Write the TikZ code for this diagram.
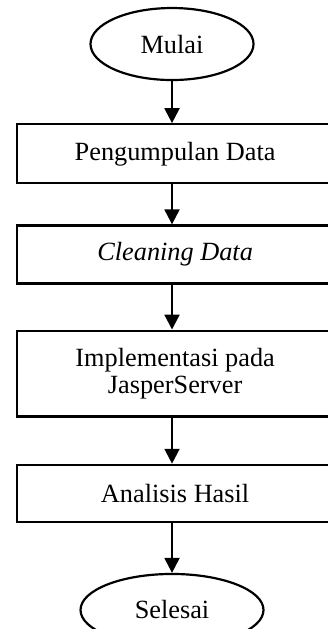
\documentclass[tikz,border=0pt]{standalone}
\usepackage{fontspec}
\setmainfont{Liberation Serif}
\usetikzlibrary{positioning,shapes.geometric,arrows.meta}

\begin{document}
\begin{tikzpicture}[
    terminal/.style={ellipse,draw=black,line width=1pt,minimum width=2.615cm,minimum height=1.155cm,inner sep=0pt,font=\fontsize{12}{13}\selectfont},
    process/.style={rectangle,draw=black,line width=1pt,minimum width=5.07cm,minimum height=0.93cm,align=center,font=\fontsize{12}{12.5}\selectfont},
    arrow/.style={-{Triangle[length=6.8pt,width=6.8pt]},line width=1pt}
]
\useasboundingbox (0,0) rectangle (5.245,-10.089);

% Start
\node[terminal] (mulai) at (2.759,-0.706) {Mulai};

% Process steps
\node[process,below=0.674cm of mulai,xshift=0.05cm,minimum height=0.946cm] (pengumpulan) {Pengumpulan Data};
\node[process,below=0.642cm of pengumpulan] (cleaning) {\textit{Cleaning Data}};
\node[process,below=0.722cm of cleaning,minimum height=1.379cm] (implementasi) {Implementasi pada\\JasperServer};
\node[process,below=0.738cm of implementasi,minimum height=0.914cm] (analisis) {Analisis Hasil};

% End
\node[terminal,below=0.802cm of analisis,xshift=-0.05cm,minimum width=2.935cm] (selesai) {Selesai};

\draw[arrow] (mulai) -- (mulai |- pengumpulan.north);
\draw[arrow] (pengumpulan.south -| mulai) -- (cleaning.north -| mulai);
\draw[arrow] (cleaning.south -| mulai) -- (implementasi.north -| mulai);
\draw[arrow] (implementasi.south -| mulai) -- (analisis.north -| mulai);
\draw[arrow] (analisis.south -| mulai) -- (selesai);

\end{tikzpicture}
\end{document}
